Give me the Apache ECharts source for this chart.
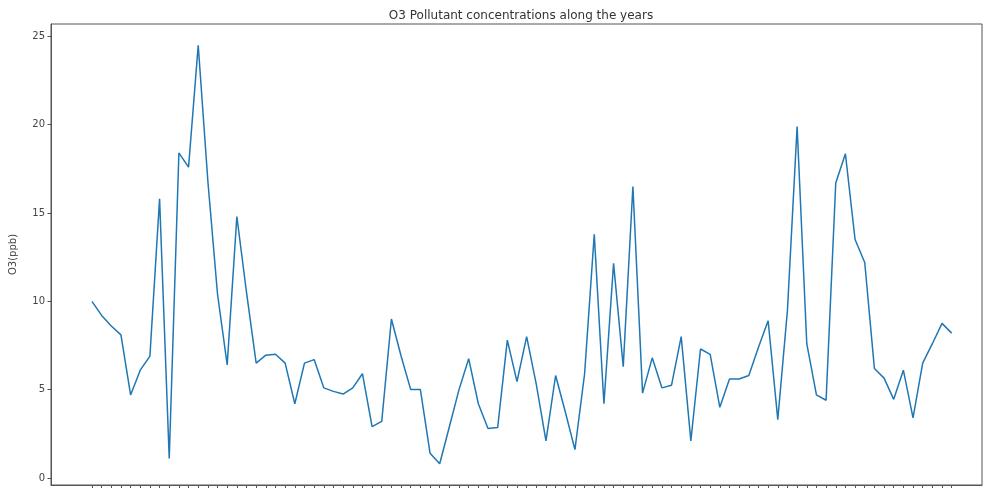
<!DOCTYPE html>
<html>
<head>
<meta charset="utf-8">
<script src="https://cdn.jsdelivr.net/npm/echarts@6/dist/echarts.min.js"></script>
<style>html,body{margin:0;padding:0;background:#fff}#c{width:987px;height:488px}</style>
</head>
<body>
<div id="c"></div>
<script>
var titleText = 'O3 Pollutant concentrations along the years';
var yName = 'O3(ppb)';
var yTicks = [0, 5, 10, 15, 20, 25];
var o3Values = [
  10.0, 9.2, 8.6, 8.1, 4.7, 6.1, 6.9, 15.8, 1.1, 18.4,
  17.6, 24.5, 16.8, 10.4, 6.4, 14.8, 10.5, 6.5, 6.95, 7.0,
  6.5, 4.2, 6.5, 6.7, 5.1, 4.9, 4.75, 5.1, 5.9, 2.9,
  3.2, 9.0, 6.9, 5.0, 5.0, 1.4, 0.8, 2.9, 5.0, 6.75,
  4.2, 2.8, 2.85, 7.8, 5.45, 8.0, 5.3, 2.1, 5.8, 3.75,
  1.6, 5.9, 13.8, 4.2, 12.15, 6.3, 16.5, 4.8, 6.8, 5.1,
  5.25, 8.0, 2.1, 7.3, 7.0, 4.0, 5.6, 5.6, 5.8, 7.4,
  8.9, 3.3, 9.5, 19.9, 7.6, 4.7, 4.4, 16.7, 18.35, 13.5,
  12.2, 6.2, 5.65, 4.45, 6.1, 3.4, 6.5, 7.6, 8.75, 8.2
];
var categories = o3Values.map(function (v, i) { return i; });

var seriesData = categories.map(function (c, i) { return [c, o3Values[i]]; });

var chart = echarts.init(document.getElementById('c'));
chart.setOption({
  animation: false,
  backgroundColor: '#fff',
  title: {
    text: titleText,
    left: 516, top: 5, textAlign: 'center',
    textStyle: { fontFamily: 'DejaVu Sans', fontSize: 12, fontWeight: 'normal', color: '#333' }
  },
  grid: {
    left: 50, right: 5, top: 24, bottom: 3,
    show: true, borderColor: '#555', borderWidth: 1, backgroundColor: 'transparent'
  },
  xAxis: {
    type: 'value',
    min: -4.24, max: 92.14,
    splitLine: { show: false },
    axisLine: { show: true, onZero: false, lineStyle: { color: '#555' } },
    axisTick: { show: true, length: 3, inside: false, lineStyle: { color: '#555' }, customValues: categories },
    axisLabel: { show: false }
  },
  yAxis: {
    type: 'value',
    min: -0.4, max: 25.7,
    name: yName,
    nameLocation: 'middle',
    nameGap: 33,
    nameTextStyle: { fontFamily: 'DejaVu Sans', fontSize: 10, color: '#444' },
    splitLine: { show: false },
    axisLine: { show: true, onZero: false, lineStyle: { color: '#555' } },
    axisTick: { show: true, length: 3.5, lineStyle: { color: '#555' }, customValues: yTicks },
    axisLabel: { show: true, customValues: yTicks, fontFamily: 'DejaVu Sans', fontSize: 10, color: '#444', margin: 6 }
  },
  series: [{
    type: 'line',
    data: seriesData,
    showSymbol: false,
    lineStyle: { color: '#1f77b4', width: 1.5 },
    itemStyle: { color: '#1f77b4' }
  }]
});
</script>
</body>
</html>
